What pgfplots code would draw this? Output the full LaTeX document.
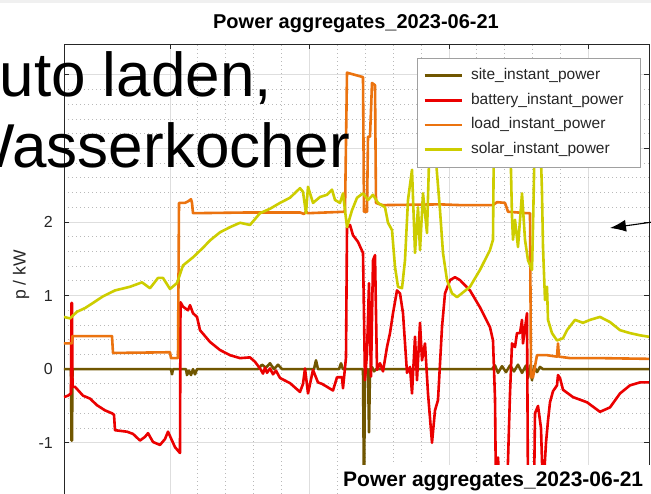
\documentclass[border=0pt]{standalone}
\usepackage{fontspec}
\setmainfont{Liberation Sans}
\usepackage{pgfplots}
\pgfplotsset{compat=1.18}
\usetikzlibrary{arrows.meta}
\definecolor{sitec}{RGB}{112,86,0}
\definecolor{batc}{RGB}{235,0,0}
\definecolor{loadc}{RGB}{235,115,15}
\definecolor{solc}{RGB}{205,205,0}
\definecolor{axc}{RGB}{38,38,38}
\definecolor{majg}{RGB}{222,222,222}
\definecolor{ming}{RGB}{185,185,185}
\definecolor{legb}{RGB}{160,160,160}
\begin{document}
\begin{tikzpicture}
\path[use as bounding box, clip] (0,0) rectangle (651pt,494pt);
\fill[white] (0,0) rectangle (651pt,494pt);
\fill[gray!12] (0,491pt) rectangle (651pt,494pt);
\begin{axis}[
  at={(64pt,-12pt)}, anchor=south west,
  scale only axis, width=585pt, height=462pt,
  xmin=64, xmax=649, ymin=-1.86, ymax=4.42,
  xtick={170,309.5,449,588.5}, xticklabels={},
  ytick={-1,0,1,2,3,4}, yticklabels={-1,0,1,2,{},{}},
  minor x tick num=4, minor y tick num=4,
  grid=both,
  major grid style={majg, line width=0.9pt},
  minor grid style={ming, line width=0.9pt, dash pattern=on 1pt off 3pt},
  tick align=inside, major tick length=5pt, minor tick length=0pt,
  axis line style={axc, line width=0.8pt},
  tick style={axc, line width=0.8pt},
  yticklabel style={font=\fontsize{16}{16}\selectfont, text=axc, inner sep=0pt, xshift=-11pt},
  ylabel={p / kW},
  ylabel style={font=\fontsize{17.5}{18}\selectfont, text=axc, at={(axis description cs:-0.0735,0.5)}, anchor=center},
  legend cell align=left,
  legend style={at={(axis description cs:0.6034,0.9697)}, anchor=north west,
    draw=legb, line width=0.9pt, fill=white, text=axc,
    font=\fontsize{15.5}{18}\selectfont,
    inner xsep=6pt, inner ysep=10pt, row sep=10.2pt,
    nodes={inner sep=0pt, text height=11pt, text depth=3.5pt},
    /tikz/every odd column/.append style={column sep=8pt},
    /tikz/column 2/.style={text width=163pt}},
  legend image code/.code={\draw[#1, line width=2.6pt] (0pt,0pt) -- (37pt,0pt);},
  every axis plot/.append style={line width=2.6pt, line join=round},
]
\addplot[sitec] coordinates {
(64,0) (70,0) (71,0) (71.5,-0.97) (72,-0.97) (72.5,0) (171,0) (172,-0.07) (173,0) (186,0) (187,-0.08) (189,-0.02) (191,-0.08) (193,0) (195,-0.07) (197,0) (258,0) (262,0.06) (266,0.02) (270,0.08) (274,0.0) (278,0.06) (282,0) (314,0) (316,0.12) (318,0) (339,0) (341,0.08) (343,0) (363,0) (364,-1.7) (365,0) (368,0) (369,-0.86) (370,0) (372,0.03) (374,-0.03) (376,0) (492,0) (495,0.05) (498,-0.05) (502,0.04) (506,-0.04) (510,0.05) (514,-0.03) (518,0.06) (522,-0.05) (526,0.05) (528,-0.12) (530,0.05) (532,-0.15) (534,0.04) (537,-0.04) (540,0.03) (543,0) (560,0) (600,0) (650,0)
};
\addlegendentry{site\_instant\_power}
\addplot[batc] coordinates {
(64,-0.38) (68,-0.36) (71,-0.33) (71.5,0.9) (72,0.9) (72.5,-0.24) (75,-0.24) (79,-0.3) (83,-0.36) (90,-0.40) (97,-0.49) (105,-0.56) (112,-0.6) (114,-0.62) (115,-0.83) (127,-0.85) (133,-0.88) (140,-0.97) (145,-0.92) (148,-0.87) (153,-0.99) (160,-1.03) (165,-0.95) (168,-0.85) (172,-0.97) (175,-1.06) (180,-1.14) (180.5,0.91) (183,0.85) (185,0.83) (188,0.8) (190,0.87) (193,0.76) (197,0.71) (200,0.53) (205,0.45) (210,0.37) (220,0.26) (230,0.19) (240,0.15) (250,0.16) (255,0.1) (260,0.01) (263,-0.06) (265,0.02) (267,-0.05) (270,0.01) (273,-0.07) (276,-0.02) (280,-0.12) (290,-0.19) (300,-0.31) (303,-0.2) (305,0.01) (308,-0.33) (313,-0.01) (318,-0.18) (322,-0.2) (327,-0.24) (333,-0.29) (337,-0.11) (342,-0.11) (343,-0.26) (346,0.16) (347,1.93) (350,1.96) (353,1.82) (358,1.73) (363,1.58) (365,-0.15) (367,0.22) (369,1.17) (371,-0.1) (373,1.48) (375,1.55) (377,-0.01) (380,0.08) (383,-0.03) (387,0.3) (390,0.49) (393,0.76) (397,1.07) (400,1.03) (403,0.76) (407,-0.05) (410,0.03) (412,-0.33) (415,0.44) (417,-0.15) (420,0.63) (422,0.12) (425,0.35) (428,-0.33) (432,-1.0) (435,-0.56) (438,-0.42) (442,0.57) (445,1.03) (450,1.21) (455,1.25) (460,1.21) (470,1.07) (480,0.84) (490,0.57) (493,0.39) (495,-0.4) (496,-1.7) (498,-1.2) (500,-1.7) (507,-1.7) (510,-0.33) (512,0.35) (515,0.3) (517,0.49) (520,0.49) (522,0.67) (523,0.35) (527,0.76) (528,-1.7) (534,-1.7) (535,-0.6) (538,-0.5) (541,-0.8) (543,-1.7) (546,-1.0) (548,-0.7) (550,-0.45) (553,-0.3) (557,-0.22) (558,-0.08) (560,-0.12) (563,-0.28) (573,-0.38) (587,-0.45) (600,-0.58) (610,-0.52) (620,-0.33) (630,-0.22) (640,-0.18) (650,-0.18)
};
\addlegendentry{battery\_instant\_power}
\addplot[loadc] coordinates {
(64,0.35) (72,0.35) (72.5,0.45) (112,0.45) (113,0.22) (170,0.23) (171,0.15) (178,0.15) (179,2.26) (185,2.26) (188,2.28) (191,2.31) (192,2.26) (193,2.12) (250,2.13) (300,2.13) (304,2.11) (306,2.14) (308,2.12) (345,2.14) (347,4.03) (355,4.0) (363,3.97) (364,2.14) (367,2.14) (368,3.16) (370,3.16) (372,3.89) (375,3.86) (376,2.26) (380,2.24) (383,2.23) (440,2.24) (460,2.23) (493,2.23) (497,2.27) (505,2.26) (508,2.14) (527,2.12) (530,2.12) (531,-0.11) (533,-0.11) (537,0.19) (547,0.19) (557,0.17) (558,0.35) (559,0.17) (570,0.15) (600,0.15) (650,0.14)
};
\addlegendentry{load\_instant\_power}
\addplot[solc] coordinates {
(64,0.71) (70,0.69) (77,0.78) (85,0.83) (93,0.9) (103,0.99) (115,1.07) (130,1.12) (142,1.18) (150,1.1) (158,1.24) (163,1.24) (170,1.09) (177,1.17) (183,1.41) (193,1.52) (203,1.65) (210,1.75) (220,1.86) (230,1.93) (240,1.99) (250,1.96) (260,2.12) (270,2.18) (280,2.26) (290,2.33) (300,2.46) (303,2.41) (306,2.12) (308,2.48) (313,2.26) (320,2.34) (327,2.37) (332,2.44) (335,2.30) (340,2.26) (343,2.39) (347,1.93) (352,2.16) (357,2.33) (363,2.39) (368,2.30) (373,2.37) (378,2.26) (385,2.2) (388,1.99) (392,1.89) (395,1.39) (398,1.12) (402,1.10) (405,1.48) (408,2.30) (412,2.71) (415,1.58) (418,2.2) (420,1.62) (423,2.39) (427,1.85) (430,3.3) (432,3.4) (435,3.0) (440,2.16) (443,1.58) (447,1.21) (452,1.03) (457,0.98) (460,1.01) (470,1.12) (480,1.35) (490,1.62) (493,1.76) (494,3.3) (510,3.3) (512,2.07) (513,1.76) (515,2.03) (518,1.66) (522,2.39) (525,1.76) (528,1.48) (532,1.35) (533,1.93) (535,3.3) (540,3.3) (542,2.4) (543,1.66) (545,0.94) (547,1.12) (548,0.67) (552,0.49) (557,0.39) (563,0.42) (567,0.53) (575,0.67) (583,0.63) (590,0.67) (600,0.71) (610,0.64) (620,0.53) (630,0.49) (640,0.46) (649,0.44)
};
\addlegendentry{solar\_instant\_power}
\end{axis}
\node[anchor=base, inner sep=0pt, font=\bfseries\fontsize{20}{20}\selectfont, text=black] at (356pt,465pt) {Power aggregates\_2023-06-21};
\node[anchor=base west, inner sep=0pt, font=\fontsize{62}{70}\selectfont] at (-42pt,397pt) {Auto laden,};
\node[anchor=base west, inner sep=0pt, font=\fontsize{62}{70}\selectfont] at (-44pt,326pt) {Wasserkocher};
\fill[white] (338pt,-1pt) rectangle (652pt,29pt);
\node[anchor=base west, inner sep=0pt, font=\bfseries\fontsize{21}{21}\selectfont] at (343pt,7pt) {Power aggregates\_2023-06-21};
\draw[black, line width=1.1pt, -{Latex[length=16pt,width=12pt]}] (660pt,273pt) -- (610pt,266pt);
\end{tikzpicture}
\end{document}
